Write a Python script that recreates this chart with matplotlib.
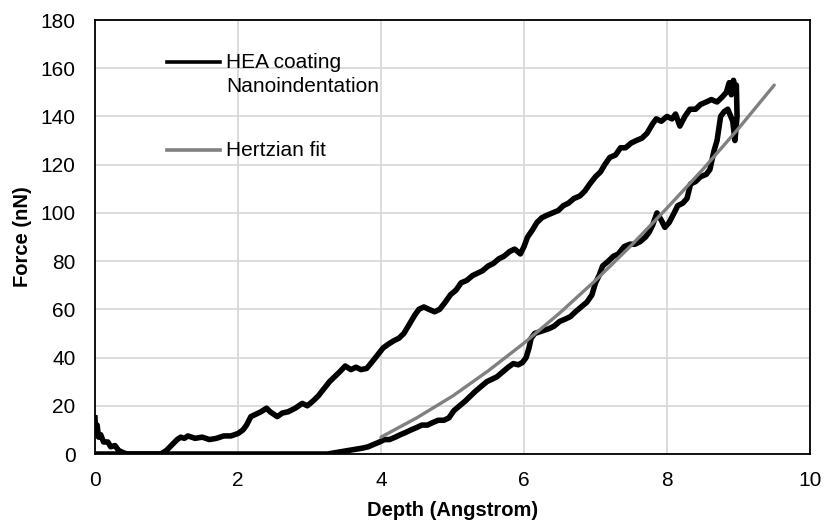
import matplotlib
matplotlib.use("Agg")
import matplotlib.pyplot as plt

plt.rcParams["font.family"] = ["Liberation Sans", "DejaVu Sans"]

# loading branch
load_depth = [0.00, 0.01, 0.03, 0.05, 0.08, 0.12, 0.18, 0.22, 0.28, 0.33, 0.40, 0.45,
              0.60, 0.80, 0.92, 1.00, 1.05, 1.10, 1.15, 1.20, 1.25, 1.30, 1.40, 1.50,
              1.60, 1.70, 1.80, 1.90, 2.00, 2.07, 2.12, 2.18, 2.25, 2.32, 2.40, 2.45,
              2.50, 2.55, 2.62, 2.70, 2.80, 2.90, 2.97, 3.05, 3.12, 3.20, 3.28, 3.35,
              3.42, 3.50, 3.58, 3.65, 3.72, 3.80, 3.87, 3.95, 4.03, 4.10, 4.18, 4.25,
              4.32, 4.40, 4.47, 4.53, 4.60, 4.67, 4.75, 4.82, 4.90, 4.97, 5.05, 5.12,
              5.20, 5.28, 5.35, 5.42, 5.50, 5.57, 5.65, 5.72, 5.80, 5.87, 5.95, 6.00,
              6.05, 6.12, 6.18, 6.25, 6.32, 6.40, 6.48, 6.55, 6.62, 6.70, 6.78, 6.85,
              6.92, 7.00, 7.07, 7.13, 7.20, 7.28, 7.35, 7.42, 7.50, 7.57, 7.65, 7.72,
              7.80, 7.85, 7.92, 8.00, 8.07, 8.12, 8.18, 8.25, 8.32, 8.40, 8.47, 8.55,
              8.62, 8.70, 8.77, 8.83, 8.87, 8.90, 8.93, 8.96]
load_force = [15, 10, 12, 7, 8, 5, 5, 3, 3.5, 1.5, 0.5, 0,
              0, 0, 0, 1.5, 3, 4.5, 6, 7, 6.5, 7.5, 6.5, 7,
              6, 6.5, 7.5, 7.5, 8.5, 10, 12, 15.5, 16.5, 17.5, 19, 17.5,
              16.5, 15.5, 17, 17.5, 19, 21, 20, 22, 24, 27, 30, 32,
              34, 36.5, 35, 36, 35, 35.5, 38, 41, 44, 45.5, 47, 48,
              50, 54, 57.5, 60, 61, 60, 59, 60, 63, 66, 68, 71,
              72, 74, 75, 76, 78, 79, 81, 82, 84, 85, 83, 86,
              90, 93, 96, 98, 99, 100, 101, 103, 104, 106, 107, 109,
              112, 115, 117, 120, 123, 124, 127, 127, 129, 130, 131, 133,
              137, 139, 138, 140, 139, 141, 136, 140, 143, 143, 145, 146,
              147, 146, 148, 150, 154, 149, 155, 150]

# unloading branch
unload_depth = [8.96, 8.97, 8.98, 8.95, 8.92, 8.85, 8.80, 8.75, 8.70, 8.66, 8.63, 8.60,
                8.55, 8.47, 8.40, 8.33, 8.28, 8.22, 8.15, 8.10, 8.03, 7.97, 7.92, 7.86,
                7.80, 7.75, 7.70, 7.62, 7.55, 7.48, 7.40, 7.32, 7.25, 7.18, 7.10, 7.05,
                7.00, 6.95, 6.88, 6.80, 6.72, 6.65, 6.58, 6.50, 6.42, 6.35, 6.25, 6.15,
                6.10, 6.07, 6.03, 5.98, 5.92, 5.85, 5.78, 5.70, 5.62, 5.55, 5.48, 5.40,
                5.32, 5.25, 5.18, 5.10, 5.02, 4.95, 4.88, 4.80, 4.72, 4.65, 4.57, 4.50,
                4.42, 4.35, 4.27, 4.20, 4.12, 4.05, 3.98, 3.90, 3.82, 3.75, 3.65, 3.55,
                3.45, 3.35, 3.25, 2.50, 1.50, 0.50, 0.00]
unload_force = [150, 153, 140, 130, 138, 143, 142, 140, 130, 126, 122, 118,
                116, 115, 113, 112, 106, 104, 103, 100, 96, 94, 97, 100,
                95, 92, 90, 88, 87, 87, 86, 83, 82, 80, 78, 74,
                71, 66, 63, 61, 59, 57, 56, 55, 53, 52, 51, 50,
                48, 44, 40, 38, 37, 37.5, 36, 34, 32, 31, 30, 28,
                26, 24, 22, 20, 18, 15, 14, 14, 13, 12, 12, 11,
                10, 9, 8, 7, 6, 6, 5, 4, 3, 2.5, 2, 1.5,
                1, 0.5, 0, 0, 0, 0, 0]

# Hertzian fit
fit_depth = [4.0, 4.5, 5.0, 5.5, 6.0, 6.5, 7.0, 7.5, 8.0, 8.5, 9.0, 9.5]
fit_force = [7, 15, 24, 34.5, 46, 58.5, 72, 86.5, 102, 118, 135, 153]

fig = plt.figure(figsize=(8.23, 5.25), dpi=100)
ax = fig.add_axes([0.1154, 0.1352, 0.8688, 0.8267])

ax.plot(unload_depth, unload_force, color="black", lw=4.0, solid_joinstyle="round", zorder=3)
ax.plot(load_depth, load_force, color="black", lw=4.0, solid_joinstyle="round", zorder=3)
ax.plot(fit_depth, fit_force, color="#808080", lw=2.4, solid_capstyle="round", zorder=4)

ax.set_xlim(0, 10)
ax.set_ylim(0, 180)
ax.set_xticks(range(0, 11, 2))
ax.set_yticks(range(0, 181, 20))
ax.grid(True, color="#d9d9d9", lw=1.3)
ax.set_axisbelow(True)
ax.tick_params(length=0, labelsize=15, pad=12)
ax.tick_params(axis="y", pad=14)
for s in ax.spines.values():
    s.set_color("black")
    s.set_linewidth(1.3)

ax.set_xlabel("Depth (Angstrom)", fontsize=14.5, fontweight="bold", labelpad=8)
ax.set_ylabel("Force (nN)", fontsize=14.5, fontweight="bold", labelpad=6)

# legend drawn by hand, Excel-style
ax.plot([0.101, 0.175], [0.903, 0.903], transform=ax.transAxes, color="black", lw=2.6)
ax.text(0.183, 0.903, "HEA coating", transform=ax.transAxes, fontsize=15,
        va="center", ha="left")
ax.text(0.183, 0.846, "Nanoindentation", transform=ax.transAxes, fontsize=15,
        va="center", ha="left")
ax.plot([0.101, 0.175], [0.700, 0.700], transform=ax.transAxes, color="#808080", lw=2.6)
ax.text(0.183, 0.700, "Hertzian fit", transform=ax.transAxes, fontsize=15,
        va="center", ha="left")

fig.savefig("out.png", dpi=100)
